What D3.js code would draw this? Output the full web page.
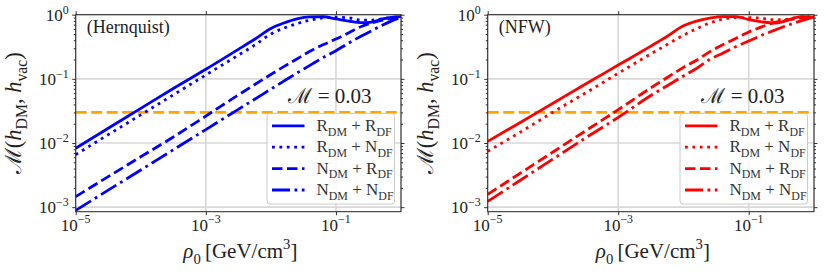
<!DOCTYPE html>
<html>
<head>
<meta charset="utf-8">
<script src="https://cdn.jsdelivr.net/npm/d3@7"></script>
<style>
  body { margin: 0; background: #fff; }
</style>
</head>
<body>
<svg width="830" height="277"></svg>
<script>
// rho_0 grid [GeV/cm^3], shared by every curve
const rho = [1e-5, 3.16e-5, 1e-4, 3.16e-4, 1e-3, 3.16e-3, 5.62e-3, 1e-2, 0.0158, 0.0251,
  0.0398, 0.0631, 0.1, 0.158, 0.251, 0.355, 0.501, 0.708, 1];

// Hernquist profile
const hernRR = [8.3e-3, 0.017, 0.0347, 0.0708, 0.141, 0.288, 0.414, 0.61, 0.741, 0.861,
  0.923, 0.929, 0.861, 0.794, 0.75, 0.767, 0.851, 0.912, 0.933];
const hernRN = [6.6e-3, 0.0135, 0.0275, 0.0562, 0.115, 0.234, 0.335, 0.50, 0.617, 0.724,
  0.822, 0.891, 0.912, 0.891, 0.822, 0.822, 0.861, 0.902, 0.933];
const hernNR = [1.46e-3, 2.99e-3, 6.1e-3, 0.0124, 0.0263, 0.0562, 0.0813, 0.117, 0.155, 0.204,
  0.269, 0.339, 0.417, 0.525, 0.661, 0.741, 0.813, 0.871, 0.923];
const hernNN = [8.9e-4, 1.84e-3, 3.8e-3, 7.85e-3, 0.0162, 0.0335, 0.0481, 0.0692, 0.0923, 0.123,
  0.162, 0.214, 0.275, 0.363, 0.468, 0.562, 0.676, 0.794, 0.902];

// NFW profile
const nfwRR = [0.0106, 0.0209, 0.0417, 0.0832, 0.164, 0.324, 0.459, 0.67, 0.794, 0.881,
  0.933, 0.933, 0.841, 0.776, 0.741, 0.794, 0.891, 0.933, 0.912];
const nfwRN = [7.4e-3, 0.0148, 0.0302, 0.0603, 0.122, 0.245, 0.343, 0.479, 0.603, 0.741,
  0.851, 0.902, 0.902, 0.881, 0.832, 0.841, 0.891, 0.923, 0.923];
const nfwNR = [1.58e-3, 3.39e-3, 7.24e-3, 0.0155, 0.0331, 0.0724, 0.105, 0.151, 0.195, 0.263,
  0.339, 0.427, 0.537, 0.646, 0.759, 0.813, 0.861, 0.902, 0.923];
const nfwNN = [1.23e-3, 2.63e-3, 5.62e-3, 0.012, 0.0251, 0.055, 0.078, 0.111, 0.145, 0.2,
  0.251, 0.316, 0.389, 0.479, 0.575, 0.661, 0.741, 0.832, 0.912];

const threshold = 0.03;
const xTicks = [1e-5, 1e-3, 1e-1];
const xTickExp = ["\u22125", "\u22123", "\u22121"];
const yTicks = [1e-3, 1e-2, 1e-1, 1];
const yTickExp = ["\u22123", "\u22122", "\u22121", "0"];
const yMinor = [2e-3,3e-3,4e-3,5e-3,6e-3,7e-3,8e-3,9e-3, 2e-2,3e-2,4e-2,5e-2,6e-2,7e-2,8e-2,9e-2,
  0.2,0.3,0.4,0.5,0.6,0.7,0.8,0.9];
const seriesNames = [
  [["R"], ["DM", "sub"], [" + R"], ["DF", "sub"]],
  [["R"], ["DM", "sub"], [" + N"], ["DF", "sub"]],
  [["N"], ["DM", "sub"], [" + R"], ["DF", "sub"]],
  [["N"], ["DM", "sub"], [" + N"], ["DF", "sub"]]
];
const dashes = [null, "2.8,4.6", "10.5,4.5", "18,4.5,2.8,4.5"];

const svg = d3.select("svg").attr("font-family", "Liberation Serif");
const top0 = 14.7, bottom0 = 211.7;

// write text made of runs: [text, "sub"|"sup"|"it"|"cal"]
function rich(textSel, parts, size) {
  let shift = 0;
  parts.forEach(([t, kind]) => {
    const ts = textSel.append("tspan").text(t);
    let target = 0;
    if (kind === "sub") { ts.attr("font-size", size * 0.7); target = size * 0.28; }
    else if (kind === "sup") { ts.attr("font-size", size * 0.7); target = -size * 0.42; }
    else if (kind === "it") { ts.attr("font-style", "italic"); }
    else if (kind === "cal") { ts.attr("font-family", "DejaVu Serif"); }
    if (target !== shift) ts.attr("dy", target - shift);
    shift = target;
  });
}

function panel(cfg) {
  const g = svg.append("g");
  const x = d3.scaleLog().domain([1e-5, 1]).range([cfg.left, cfg.right]);
  const y = d3.scaleLog().domain([8.5e-4, 1]).range([bottom0, top0]);

  // grid
  g.append("g").selectAll("line").data(xTicks.concat([1])).join("line")
    .attr("x1", d => x(d)).attr("x2", d => x(d))
    .attr("y1", top0).attr("y2", bottom0)
    .attr("stroke", "#d8d8d8").attr("stroke-width", 1.6);
  g.append("g").selectAll("line").data(yTicks).join("line")
    .attr("x1", cfg.left).attr("x2", cfg.right)
    .attr("y1", d => y(d)).attr("y2", d => y(d))
    .attr("stroke", "#d8d8d8").attr("stroke-width", 1.6);

  // clip
  const clipId = "clip" + Math.round(cfg.left);
  svg.append("clipPath").attr("id", clipId).append("rect")
    .attr("x", cfg.left).attr("y", top0)
    .attr("width", cfg.right - cfg.left).attr("height", bottom0 - top0);
  const plot = g.append("g").attr("clip-path", `url(#${clipId})`);

  // threshold line
  plot.append("line")
    .attr("x1", cfg.left).attr("x2", cfg.right)
    .attr("y1", y(threshold)).attr("y2", y(threshold))
    .attr("stroke", "orange").attr("stroke-width", 2.6)
    .attr("stroke-dasharray", "11,4.5");

  const line = d3.line().x(d => x(d[0])).y(d => y(d[1])).curve(d3.curveMonotoneX);
  cfg.series.forEach((vals, i) => {
    plot.append("path")
      .datum(rho.map((r, k) => [r, vals[k]]))
      .attr("d", line)
      .attr("fill", "none")
      .attr("stroke", cfg.color)
      .attr("stroke-width", 2.8)
      .attr("stroke-dasharray", dashes[i]);
  });

  // ticks (outward on all sides)
  const tickStyle = s => { s.select(".domain").remove(); s.selectAll("line").attr("stroke", "#000").attr("stroke-width", 0.8); };
  g.append("g").attr("transform", `translate(0,${bottom0})`)
    .call(d3.axisBottom(x).tickValues(xTicks).tickSize(3.5).tickFormat("")).call(tickStyle);
  g.append("g").attr("transform", `translate(0,${top0})`)
    .call(d3.axisTop(x).tickValues(xTicks).tickSize(3.5).tickFormat("")).call(tickStyle);
  [[d3.axisLeft, cfg.left], [d3.axisRight, cfg.right]].forEach(([ax, pos]) => {
    g.append("g").attr("transform", `translate(${pos},0)`)
      .call(ax(y).tickValues(yTicks).tickSize(3.5).tickFormat("")).call(tickStyle);
    g.append("g").attr("transform", `translate(${pos},0)`)
      .call(ax(y).tickValues(yMinor).tickSize(2).tickFormat("")).call(tickStyle);
  });

  // frame
  g.append("rect").attr("x", cfg.left).attr("y", top0)
    .attr("width", cfg.right - cfg.left).attr("height", bottom0 - top0)
    .attr("fill", "none").attr("stroke", "#222").attr("stroke-width", 1);

  // tick labels
  xTicks.forEach((v, i) => {
    const t = g.append("text").attr("x", x(v)).attr("y", 230.5)
      .attr("text-anchor", "middle").attr("font-size", 17).attr("fill", "#222");
    rich(t, [["10"], [xTickExp[i], "sup"]], 17);
  });
  yTicks.forEach((v, i) => {
    const t = g.append("text").attr("x", cfg.left - 7).attr("y", y(v) + 6)
      .attr("text-anchor", "end").attr("font-size", 17).attr("fill", "#222");
    rich(t, [["10"], [yTickExp[i], "sup"]], 17);
  });

  // axis labels
  const xl = g.append("text").attr("x", (cfg.left + cfg.right) / 2 + 2).attr("y", 258)
    .attr("text-anchor", "middle").attr("font-size", 21).attr("fill", "#222");
  rich(xl, [["\u03c1", "it"], ["0", "sub"], ["\u2009[GeV/cm"], ["3", "sup"], ["]"]], 21);
  const yl = g.append("text")
    .attr("transform", `translate(${cfg.left - 55},${(top0 + bottom0) / 2}) rotate(-90)`)
    .attr("text-anchor", "middle").attr("font-size", 22.5).attr("fill", "#222");
  rich(yl, [["\u2133", "cal"], ["("], ["h", "it"], ["DM", "sub"], [", "], ["h", "it"], ["vac", "sub"], [")"]], 22.5);

  // profile name
  g.append("text").attr("x", cfg.left + 11).attr("y", 33)
    .attr("font-size", 18).attr("fill", "#222").text(cfg.name);

  // M = 0.03 annotation
  const ann = g.append("text").attr("x", cfg.right - 71).attr("y", 103)
    .attr("text-anchor", "middle").attr("font-size", 21).attr("fill", "#222");
  rich(ann, [["\u2133", "cal"], [" = 0.03"]], 21);

  // legend
  const lx = cfg.right - 134, ly = 113.5;
  const leg = g.append("g");
  leg.append("rect").attr("x", lx).attr("y", ly).attr("width", 127.5).attr("height", 90.5)
    .attr("rx", 3).attr("fill", "#fff").attr("fill-opacity", 0.85)
    .attr("stroke", "#cccccc").attr("stroke-width", 1);
  seriesNames.forEach((parts, i) => {
    const cy = ly + 12.3 + i * 21.4;
    leg.append("line").attr("x1", lx + 5).attr("x2", lx + 37.5)
      .attr("y1", cy).attr("y2", cy)
      .attr("stroke", cfg.color).attr("stroke-width", 2.8)
      .attr("stroke-dasharray", dashes[i]);
    const t = leg.append("text").attr("x", lx + 49.5).attr("y", cy + 5)
      .attr("font-size", 17).attr("fill", "#333");
    rich(t, parts, 17);
  });
}

panel({ left: 75.7, right: 401, color: "blue", name: "(Hernquist)",
  series: [hernRR, hernRN, hernNR, hernNN] });
panel({ left: 487.7, right: 814, color: "red", name: "(NFW)",
  series: [nfwRR, nfwRN, nfwNR, nfwNN] });
</script>
</body>
</html>
